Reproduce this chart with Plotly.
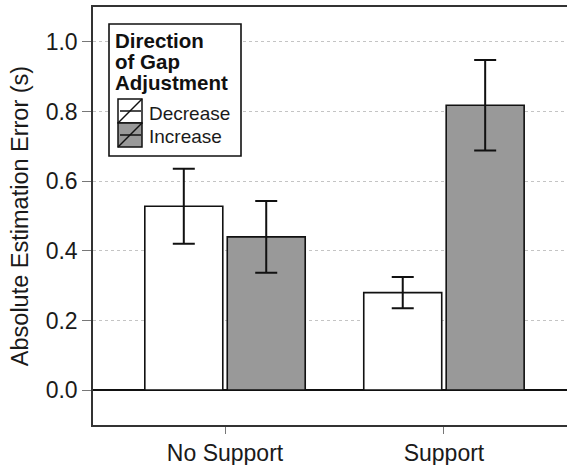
import plotly.graph_objects as go

categories = ["No Support", "Support"]
decrease_vals = [0.528, 0.280]
decrease_err = [0.108, 0.045]
increase_vals = [0.440, 0.818]
increase_err = [0.103, 0.130]
y_ticks = [0.0, 0.2, 0.4, 0.6, 0.8, 1.0]
y_tick_labels = ["0.0", "0.2", "0.4", "0.6", "0.8", "1.0"]
legend_title = ["Direction", "of Gap", "Adjustment"]
legend_labels = ["Decrease", "Increase"]
legend_fills = ["white", "#999999"]

FONT = "Liberation Sans, Arial, sans-serif"
W, H = 567, 465
ML, MR, MT, MB = 93, 0, 7, 40
PW, PH = W - ML - MR, H - MT - MB


def px(x):
    return (x - ML) / PW


def py(y):
    return (H - MB - y) / PH


fig = go.Figure()
fig.add_trace(go.Bar(
    x=[0, 1], y=decrease_vals, name=legend_labels[0],
    marker=dict(color=legend_fills[0], line=dict(color="#111", width=1.6)),
    error_y=dict(type="data", array=decrease_err, color="#111", thickness=2, width=11),
))
fig.add_trace(go.Bar(
    x=[0, 1], y=increase_vals, name=legend_labels[1],
    marker=dict(color=legend_fills[1], line=dict(color="#111", width=1.6)),
    error_y=dict(type="data", array=increase_err, color="#111", thickness=2, width=11),
))

shapes = []
annotations = []
# legend box
shapes.append(dict(type="rect", xref="paper", yref="paper",
                   x0=px(109), x1=px(241), y0=py(156), y1=py(24),
                   line=dict(color="#111", width=1.6), fillcolor="white", layer="above"))
for i, t in enumerate(legend_title):
    annotations.append(dict(xref="paper", yref="paper", x=px(113), y=py(41 + 21 * i),
                            xanchor="left", yanchor="middle", showarrow=False,
                            text="<b>%s</b>" % t,
                            font=dict(size=20.5, family=FONT, color="#111")))
for i, (lab, fc) in enumerate(zip(legend_labels, legend_fills)):
    top = 99 + 24 * i
    bot = top + 24
    shapes.append(dict(type="rect", xref="paper", yref="paper",
                       x0=px(118), x1=px(142), y0=py(bot), y1=py(top),
                       line=dict(color="#111", width=1.5), fillcolor=fc, layer="above"))
    shapes.append(dict(type="line", xref="paper", yref="paper",
                       x0=px(118), x1=px(142), y0=py(bot), y1=py(top),
                       line=dict(color="#111", width=1.5), layer="above"))
    shapes.append(dict(type="line", xref="paper", yref="paper",
                       x0=px(120), x1=px(141), y0=py((top + bot) / 2), y1=py((top + bot) / 2),
                       line=dict(color="#111", width=1.5), layer="above"))
    annotations.append(dict(xref="paper", yref="paper", x=px(147), y=py(113.5 + 23 * i),
                            xanchor="left", yanchor="middle", showarrow=False,
                            text=lab, font=dict(size=19, family=FONT, color="#1a1a1a")))

fig.update_layout(
    width=W, height=H,
    margin=dict(l=ML, r=MR, t=MT, b=MB),
    paper_bgcolor="white", plot_bgcolor="white",
    barmode="group", bargap=0.247, bargroupgap=0.054,
    font=dict(family=FONT, color="#1a1a1a"),
    showlegend=False,
    shapes=shapes,
    annotations=annotations,
)

fig.update_xaxes(
    range=[-0.603, 1.562], automargin=False,
    tickmode="array", tickvals=[0, 1], ticktext=categories,
    tickfont=dict(size=23, family=FONT, color="#1a1a1a"),
    ticks="outside", ticklen=7, tickcolor="#777", tickwidth=1,
    showline=True, linecolor="#333", linewidth=1.5, mirror=True,
    showgrid=False, zeroline=False,
)
fig.update_yaxes(
    range=[-0.1, 1.1], automargin=False,
    tickmode="array", tickvals=y_ticks, ticktext=y_tick_labels,
    tickfont=dict(size=23, family=FONT, color="#1a1a1a"),
    ticks="outside", ticklen=9, tickcolor="#777", tickwidth=1,
    showline=True, linecolor="#333", linewidth=1.5, mirror=False,
    showgrid=True, gridcolor="#c4c4c4", griddash="dot", gridwidth=1,
    zeroline=True, zerolinecolor="#111", zerolinewidth=1.6,
    title=dict(text="Absolute Estimation Error (s)", font=dict(size=23.5, family=FONT, color="#1a1a1a"), standoff=10),
)

fig.write_html("out.html", config={"displayModeBar": False},
               post_script="document.body.style.margin='0';document.body.style.overflow='hidden';")
